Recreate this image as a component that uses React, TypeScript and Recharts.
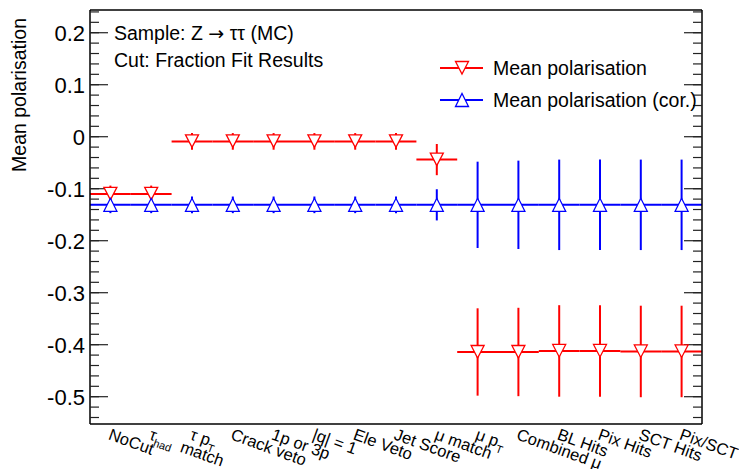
import { ComposedChart, ErrorBar, Legend, Scatter, XAxis, YAxis } from 'recharts';

const FONT = '"Liberation Sans", Arial, Helvetica, sans-serif';

// cut-flow steps, one per bin
const categories = [
  'NoCut',
  'τ_{had}',
  'τ p_{T}\nmatch',
  'Crack veto',
  '1p or 3p',
  '|q| = 1',
  'Ele Veto',
  'Jet Score',
  'μ match',
  'μ p_{T}',
  'Combined μ',
  'BL Hits',
  'Pix Hits',
  'SCT Hits',
  'Pix/SCT Hits',
];
const binCenters = [0.5, 1.5, 2.5, 3.5, 4.5, 5.5, 6.5, 7.5, 8.5, 9.5, 10.5, 11.5, 12.5, 13.5, 14.5];
const binHalfWidth = 0.5;

const polarisation = [
  -0.11, -0.11, -0.009, -0.009, -0.009, -0.009, -0.009, -0.009, -0.044,
  -0.414, -0.414, -0.412, -0.412, -0.413, -0.413,
];
const polarisationErr = [
  0.016, 0.016, 0.016, 0.016, 0.016, 0.016, 0.016, 0.016, 0.03,
  0.084, 0.085, 0.088, 0.088, 0.088, 0.088,
];
const polarisationCor = [
  -0.131, -0.131, -0.131, -0.131, -0.131, -0.131, -0.131, -0.131, -0.131,
  -0.131, -0.131, -0.131, -0.131, -0.131, -0.131,
];
const polarisationCorErr = [
  0.016, 0.016, 0.016, 0.016, 0.016, 0.016, 0.016, 0.016, 0.03,
  0.083, 0.085, 0.087, 0.087, 0.087, 0.087,
];

const yDomain = [-0.5525, 0.2437];
const yMajorTicks = [0.2, 0.1, 0, -0.1, -0.2, -0.3, -0.4, -0.5];
const yMinorTicks = [
  0.24, 0.22, 0.2, 0.18, 0.16, 0.14, 0.12, 0.1, 0.08, 0.06, 0.04, 0.02, 0,
  -0.02, -0.04, -0.06, -0.08, -0.1, -0.12, -0.14, -0.16, -0.18, -0.2, -0.22,
  -0.24, -0.26, -0.28, -0.3, -0.32, -0.34, -0.36, -0.38, -0.4, -0.42, -0.44,
  -0.46, -0.48, -0.5, -0.52, -0.54,
];
const xTickPositions = [0.417, 2.083, 3.75, 5.417, 7.083, 8.75, 10.417, 12.083, 13.75];

const redData = binCenters.map((x, i) => ({
  x,
  y: polarisation[i],
  xErr: binHalfWidth,
  yErr: polarisationErr[i],
}));
const blueData = binCenters.map((x, i) => ({
  x,
  y: polarisationCor[i],
  xErr: binHalfWidth,
  yErr: polarisationCorErr[i],
}));

const RED = '#ff0000';
const BLUE = '#0000ff';
const frameLine = { stroke: '#000', strokeWidth: 1.5 };
const tickMark = { stroke: '#222', strokeWidth: 1.2 };

function downPath(cx: number, cy: number) {
  return `M${cx - 6.5},${cy - 6.5}L${cx + 6.5},${cy - 6.5}L${cx},${cy + 6}Z`;
}
function upPath(cx: number, cy: number) {
  return `M${cx - 6.5},${cy + 6.5}L${cx + 6.5},${cy + 6.5}L${cx},${cy - 6.5}Z`;
}

const DownMarker = (props: any) => (
  <path d={downPath(props.cx, props.cy)} fill="#fff" stroke={RED} strokeWidth={1.3} />
);
const UpMarker = (props: any) => (
  <path d={upPath(props.cx, props.cy)} fill="#fff" stroke={BLUE} strokeWidth={1.3} />
);
const NoMarker = () => <g />;

// tiny latex-ish helper: "p_{T}" -> p with subscript T
function renderLatex(line: string) {
  return line.split(/_\{([^}]*)\}/).map((part, i) =>
    i % 2 === 1 ? (
      <tspan key={i} fontSize={11} dy={5}>
        {part}
      </tspan>
    ) : (
      <tspan key={i} dy={i > 0 ? -5 : 0}>
        {part}
      </tspan>
    )
  );
}

const CategoryTick = (props: any) => {
  const { x, y, payload } = props;
  const idx = Math.round(payload.value - 0.5);
  const label = categories[idx] ?? '';
  const ax = x - 3;
  const ay = y + 15;
  return (
    <g transform={`rotate(20, ${ax}, ${ay})`}>
      {label.split('\n').map((line, li) => (
        <text
          key={li}
          x={ax - li * 5}
          y={ay + li * 15}
          fontFamily={FONT}
          fontSize={16.5}
          fill="#000"
        >
          {renderLatex(line)}
        </text>
      ))}
    </g>
  );
};

const NoTick = () => <g />;

const LegendBox = ({ payload }: any) => (
  <div style={{ fontFamily: FONT, fontSize: 19.5, color: '#000' }}>
    {(payload ?? [])
      .filter((entry: any) => entry.type !== 'none')
      .map((entry: any, i: number) => (
        <div key={entry.value} style={{ display: 'flex', alignItems: 'center', height: 32 }}>
          <svg width={52} height={32}>
            <line x1={4} x2={47} y1={16} y2={16} stroke={entry.color} strokeWidth={2} />
            <path
              d={i === 0 ? downPath(26, 16) : upPath(26, 16)}
              fill="#fff"
              stroke={entry.color}
              strokeWidth={1.3}
            />
          </svg>
          <span style={{ marginLeft: 5, whiteSpace: 'nowrap' }}>{entry.value}</span>
        </div>
      ))}
  </div>
);

// mirrored tick-only axes; a near-zero width keeps them all on the frame line
const mirrorY = {
  type: 'number' as const,
  mirror: true,
  width: 0.01,
  domain: yDomain,
  allowDataOverflow: true,
  interval: 0 as const,
  tickLine: tickMark,
  tick: NoTick,
};

export default function App() {
  return (
    <div style={{ position: 'absolute', left: 0, top: 0, background: '#fff' }}>
      <ComposedChart width={739} height={469} margin={{ top: 10, right: 37, bottom: 0, left: 0 }}>
        <XAxis
          xAxisId="cat"
          type="number"
          dataKey="x"
          domain={[0, 15]}
          allowDataOverflow
          ticks={binCenters}
          interval={0}
          height={45}
          tickLine={false}
          tickSize={0}
          tickMargin={0}
          axisLine={frameLine}
          tick={CategoryTick}
        />
        <XAxis
          xAxisId="bottomTicks"
          type="number"
          orientation="bottom"
          mirror
          domain={[0, 15]}
          allowDataOverflow
          ticks={xTickPositions}
          interval={0}
          tickSize={12}
          tickLine={tickMark}
          axisLine={false}
          tick={NoTick}
        />
        <XAxis
          xAxisId="topTicks"
          type="number"
          orientation="top"
          mirror
          domain={[0, 15]}
          allowDataOverflow
          ticks={xTickPositions}
          interval={0}
          tickSize={12}
          tickLine={tickMark}
          axisLine={frameLine}
          tick={NoTick}
        />
        <YAxis
          yAxisId="val"
          type="number"
          dataKey="y"
          domain={yDomain}
          allowDataOverflow
          ticks={yMajorTicks}
          interval={0}
          width={90}
          tickLine={false}
          tickSize={0}
          tickMargin={5}
          axisLine={frameLine}
          tick={{ fill: '#000', fontSize: 22, fontFamily: FONT }}
        />
        <YAxis yAxisId="leftMajor" {...mirrorY} ticks={yMajorTicks} tickSize={18} axisLine={false} />
        <YAxis yAxisId="leftMinor" {...mirrorY} ticks={yMinorTicks} tickSize={9} axisLine={false} />
        <YAxis yAxisId="rightMajor" {...mirrorY} orientation="right" ticks={yMajorTicks} tickSize={18} axisLine={frameLine} />
        <YAxis yAxisId="rightMinor" {...mirrorY} orientation="right" ticks={yMinorTicks} tickSize={9} axisLine={false} />

        {/* error bars (bin width + stat. error) */}
        <Scatter
          name="Mean polarisation"
          data={redData}
          xAxisId="cat"
          yAxisId="val"
          fill={RED}
          shape={NoMarker}
          isAnimationActive={false}
        >
          <ErrorBar dataKey="xErr" direction="x" width={0} stroke={RED} strokeWidth={2} />
          <ErrorBar dataKey="yErr" direction="y" width={0} stroke={RED} strokeWidth={2} />
        </Scatter>
        <Scatter
          name="Mean polarisation (cor.)"
          data={blueData}
          xAxisId="cat"
          yAxisId="val"
          fill={BLUE}
          shape={NoMarker}
          isAnimationActive={false}
        >
          <ErrorBar dataKey="xErr" direction="x" width={0} stroke={BLUE} strokeWidth={2} />
          <ErrorBar dataKey="yErr" direction="y" width={0} stroke={BLUE} strokeWidth={2} />
        </Scatter>
        {/* open markers on top */}
        <Scatter
          data={redData}
          xAxisId="cat"
          yAxisId="val"
          fill={RED}
          legendType="none"
          shape={DownMarker}
          isAnimationActive={false}
        />
        <Scatter
          data={blueData}
          xAxisId="cat"
          yAxisId="val"
          fill={BLUE}
          legendType="none"
          shape={UpMarker}
          isAnimationActive={false}
        />

        <Legend
          layout="vertical"
          align="center"
          verticalAlign="middle"
          content={LegendBox}
          wrapperStyle={{ left: 436, top: 52, width: 300 }}
        />

        <text x={114} y={40} fontFamily={FONT} fontSize={19.5} fill="#000">
          Sample: Z{' '}
          <tspan fontFamily="DejaVu Sans" fontSize={19}>
            →
          </tspan>{' '}
          ττ (MC)
        </text>
        <text x={114} y={67} fontFamily={FONT} fontSize={19.5} fill="#000">
          Cut: Fraction Fit Results
        </text>
        <text
          x={25.5}
          y={18}
          transform="rotate(-90, 25.5, 18)"
          textAnchor="end"
          fontFamily={FONT}
          fontSize={19.5}
          fill="#000"
        >
          Mean polarisation
        </text>
      </ComposedChart>
    </div>
  );
}
